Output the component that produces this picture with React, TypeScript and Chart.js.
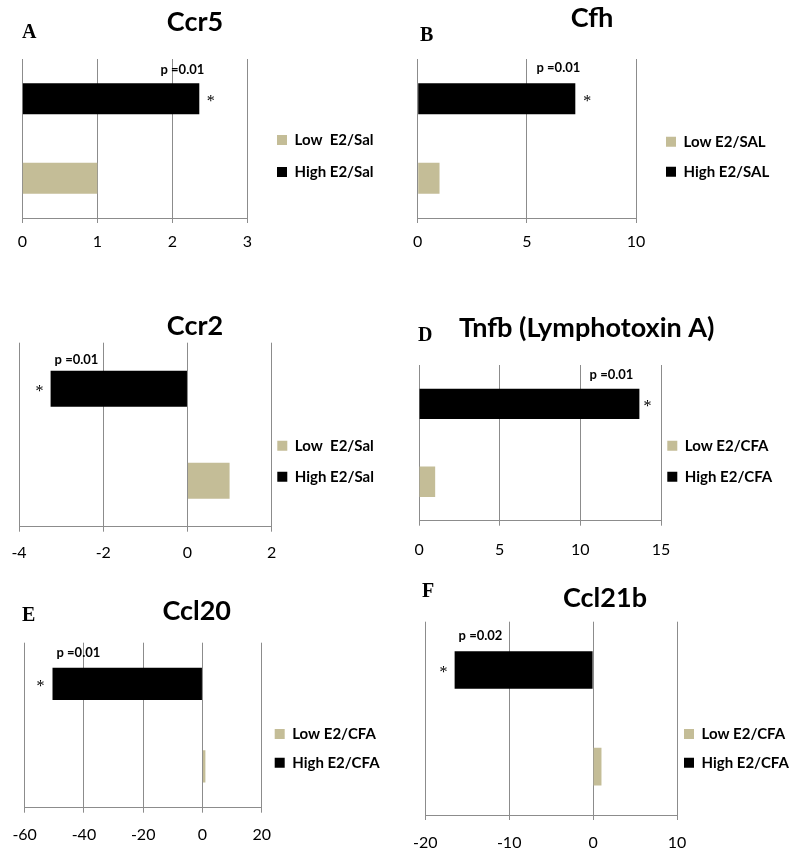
import React, { useEffect, useRef } from "react";
import { Chart, registerables } from "chart.js";

Chart.register(...registerables);

// ---------- DATA ----------
const geneTitles = ["Ccr5", "Cfh", "Ccr2", "Tnfb (Lymphotoxin A)", "Ccl20", "Ccl21b"];
const panelLetters = ["A", "B", "", "D", "E", "F"];
const lowLabels = ["Low  E2/Sal", "Low E2/SAL", "Low  E2/Sal", "Low E2/CFA", "Low E2/CFA", "Low E2/CFA"];
const highLabels = ["High E2/Sal", "High E2/SAL", "High E2/Sal", "High E2/CFA", "High E2/CFA", "High E2/CFA"];
const lowValues = [1, 1, 1, 1, 1, 1];
const highValues = [2.36, 7.22, -3.25, 13.66, -50.6, -16.5];
const pLabels = ["p =0.01", "p =0.01", "p =0.01", "p =0.01", "p =0.01", "p =0.02"];
const starLabels = ["*", "*", "*", "*", "*", "*"];
const axisMin = [0, 0, -4, 0, -60, -20];
const axisMax = [3, 10, 2, 15, 20, 10];
const axisStep = [1, 5, 2, 5, 20, 10];

// ---------- LAYOUT (page coordinates) ----------
type Lay = {
  cx: number; cy: number; cw: number; ch: number;
  l: number; t: number; r: number; b: number;
  tx: number; ty: number; lx: number; ly: number;
  gx: number; gy: number; gg: number; tp: number;
  pdx: number; pdy: number; sdx: number;
};
const layouts: Lay[] = [
  { cx: 0, cy: 0, cw: 400, ch: 280, l: 22.3, t: 59, r: 247.3, b: 218, tx: 195, ty: 22, lx: 22, ly: 33, gx: 277, gy: 140, gg: 32, tp: 9.4, pdx: 5, pdy: 13.5, sdx: 11.5 },
  { cx: 400, cy: 0, cw: 400, ch: 280, l: 417.7, t: 59, r: 636, b: 218, tx: 592, ty: 18, lx: 420, ly: 36, gx: 666, gy: 141.7, gg: 30, tp: 9.4, pdx: 5, pdy: 15.5, sdx: 12 },
  { cx: 0, cy: 280, cw: 400, ch: 300, l: 16.7, t: 342.7, r: 271.7, b: 526.7, tx: 195, ty: 326.7, lx: 0, ly: 0, gx: 277.3, gy: 445.7, gg: 31, tp: 11.4, pdx: 4, pdy: 10.7, sdx: -11 },
  { cx: 400, cy: 280, cw: 400, ch: 300, l: 417.7, t: 365, r: 661, b: 520.7, tx: 586.7, ty: 328, lx: 418, ly: 336, gx: 667.3, gy: 445.7, gg: 31, tp: 14.4, pdx: -6, pdy: 13.8, sdx: 8 },
  { cx: 0, cy: 580, cw: 400, ch: 276, l: 21.7, t: 642.7, r: 261.7, b: 807.7, tx: 196.7, ty: 611.7, lx: 22, ly: 616, gx: 274.7, gy: 734, gg: 28.7, tp: 12.4, pdx: 4, pdy: 14.7, sdx: -12 },
  { cx: 400, cy: 580, cw: 400, ch: 276, l: 420, t: 621.7, r: 677, b: 815, tx: 605, ty: 598, lx: 422, ly: 592, gx: 684, gy: 734, gg: 28.7, tp: 13, pdx: 4, pdy: 15.2, sdx: -11 },
];

const HIGH_COLOR = "#000000";
const LOW_COLOR = "#C4BD97";
const GRID = "#8C8C8C";
const TITLE_SIZE = 27;
const TITLE_LH = TITLE_SIZE * 1.2;
const AXIS_H = 36;
const LEGEND_FONT = 15;

function Panel({ i }: { i: number }) {
  const ref = useRef<HTMLCanvasElement>(null);
  const L = layouts[i];
  useEffect(() => {
    const cx = L.cx, cy = L.cy;
    const titleTop = L.ty - cy - TITLE_LH / 2;
    const titleBottom = (L.t - cy) - titleTop - TITLE_LH;
    const legendPad = L.gg - LEGEND_FONT;

    const decor = {
      id: "panelDecor",
      afterLayout(chart: any) {
        const tb = chart.titleBlock;
        if (tb) {
          tb.left = L.tx - cx - 200;
          tb.right = L.tx - cx + 200;
          tb.width = 400;
        }
        const lg = chart.legend;
        if (lg) {
          lg.left = L.gx - cx - legendPad;
          lg.right = lg.left + 300;
          lg.width = 300;
          lg.top = L.gy - cy - legendPad - LEGEND_FONT / 2;
          lg.bottom = lg.top + 300;
          lg.height = 300;
        }
      },
      afterDatasetsDraw(chart: any) {
        const ctx = chart.ctx as CanvasRenderingContext2D;
        const bar = chart.getDatasetMeta(0).data[0];
        const { x, y, base, height } = bar.getProps(["x", "y", "base", "height"], true);
        const top = y - height / 2;
        const positive = x >= base;
        ctx.save();
        ctx.fillStyle = "#000";
        ctx.textBaseline = "middle";
        ctx.font = "bold 13px Lato";
        ctx.textAlign = positive ? "right" : "left";
        ctx.fillText(pLabels[i], x + L.pdx, top - L.pdy);
        ctx.font = '16px "Liberation Serif"';
        ctx.textAlign = "center";
        ctx.fillText(starLabels[i], x + L.sdx, y + 3);
        ctx.restore();
      },
      afterDraw(chart: any) {
        if (!panelLetters[i]) return;
        const ctx = chart.ctx as CanvasRenderingContext2D;
        ctx.save();
        ctx.fillStyle = "#000";
        ctx.textBaseline = "middle";
        ctx.textAlign = "left";
        ctx.font = 'bold 20px "Liberation Serif"';
        ctx.fillText(panelLetters[i], L.lx - cx, L.ly - cy);
        ctx.restore();
      },
    };

    const chart = new Chart(ref.current as HTMLCanvasElement, {
      type: "bar",
      data: {
        labels: [geneTitles[i]],
        datasets: [
          { label: highLabels[i], data: [highValues[i]], backgroundColor: HIGH_COLOR, borderWidth: 0, barPercentage: 0.39, categoryPercentage: 1 },
          { label: lowLabels[i], data: [lowValues[i]], backgroundColor: LOW_COLOR, borderWidth: 0, barPercentage: 0.39, categoryPercentage: 1 },
        ],
      },
      options: {
        indexAxis: "y",
        responsive: false,
        animation: false,
        events: [],
        layout: {
          padding: {
            left: L.l - cx,
            top: 0,
            right: L.cw - (L.r - cx) - 1,
            bottom: L.ch - (L.b - cy) - AXIS_H,
          },
        },
        scales: {
          x: {
            type: "linear",
            min: axisMin[i],
            max: axisMax[i],
            ticks: { stepSize: axisStep[i], padding: L.tp, color: "#000", font: { family: "Lato", size: 16 } },
            grid: { color: GRID, lineWidth: 1, tickLength: 5, drawTicks: true },
            border: { display: true, color: GRID, width: 1 },
            afterFit: (s: any) => { s.height = AXIS_H; },
          },
          y: { display: false },
        },
        plugins: {
          title: {
            display: true,
            text: geneTitles[i],
            color: "#000",
            font: { family: "Lato", size: TITLE_SIZE, weight: "bold" },
            padding: { top: titleTop, bottom: titleBottom },
          },
          legend: {
            display: true,
            position: "right",
            align: "start",
            reverse: true,
            maxWidth: 1,
            labels: {
              boxWidth: 10,
              boxHeight: 10,
              padding: legendPad,
              color: "#000",
              textAlign: "left",
              font: { family: "Lato", size: LEGEND_FONT, weight: "bold" },
            },
          },
          tooltip: { enabled: false },
        },
      } as any,
      plugins: [decor as any],
    });
    return () => chart.destroy();
  }, []);
  return (
    <canvas
      ref={ref}
      width={L.cw}
      height={L.ch}
      style={{ position: "absolute", left: L.cx, top: L.cy, width: L.cw, height: L.ch }}
    />
  );
}

export default function App() {
  return (
    <div style={{ position: "absolute", left: 0, top: 0, width: 800, height: 856, background: "#fff", overflow: "hidden" }}>
      {geneTitles.map((_, i) => (
        <Panel key={i} i={i} />
      ))}
    </div>
  );
}
